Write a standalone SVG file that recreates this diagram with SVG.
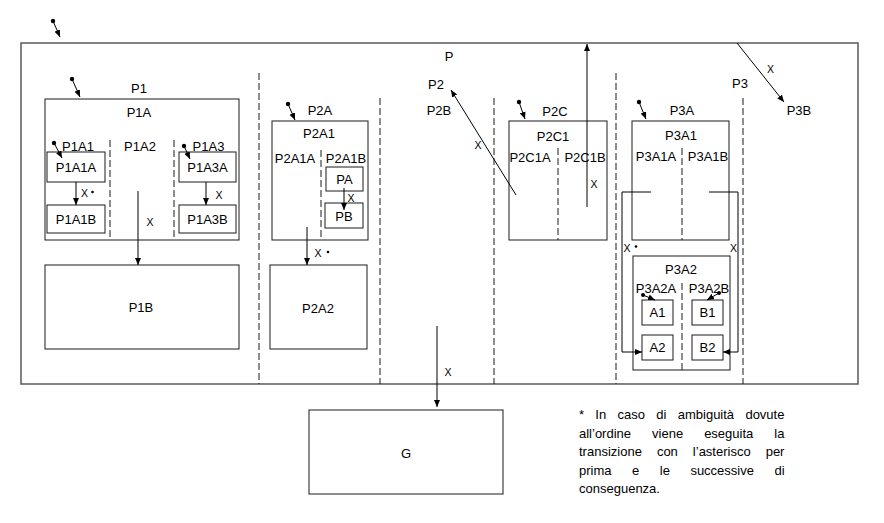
<svg xmlns="http://www.w3.org/2000/svg" width="884" height="523" viewBox="0 0 884 523">
<style>
text{font-family:"Liberation Sans",Arial,sans-serif;font-size:13px;fill:#000;text-anchor:middle}
text.x{font-size:10.5px}
text.note{text-anchor:start;font-size:13px}
.box{fill:#fff;stroke:#1a1a1a;stroke-width:1}
.outer{fill:#fff;stroke:#595959;stroke-width:1.5}
.dash{fill:none;stroke:#1a1a1a;stroke-width:1;stroke-dasharray:7 3}
.edge{fill:none;stroke:#000;stroke-width:1;marker-end:url(#ah)}
.init{fill:none;stroke:#000;stroke-width:1;marker-end:url(#ah)}
.dot{fill:#000}
</style>
<defs>
<marker id="ah" markerUnits="userSpaceOnUse" markerWidth="7" markerHeight="6" refX="7" refY="3" orient="auto">
<path d="M0,0 L7,3 L0,6 z" fill="#000"/>
</marker>
</defs>
<rect width="884" height="523" fill="#fff"/>

<g id="P">
<rect class="outer" x="21" y="43" width="837" height="341"/>
<text x="449" y="60.5">P</text>
<line class="dash" x1="259" y1="73" x2="259" y2="384"/>
<line class="dash" x1="616" y1="73" x2="616" y2="384"/>
</g>

<g id="P1">
<text x="139" y="93">P1</text>
</g>
<g id="P1A">
<rect class="box" x="45" y="99" width="194" height="141"/>
<text x="139" y="117">P1A</text>
<line class="dash" x1="110" y1="140" x2="110" y2="240"/>
<line class="dash" x1="174" y1="140" x2="174" y2="240"/>
<text x="78" y="150.5">P1A1</text>
<text x="140" y="150.5">P1A2</text>
<text x="208.5" y="150.5">P1A3</text>
</g>
<g id="P1A1A"><rect class="box" x="47" y="152" width="58" height="30"/><text x="76" y="171.5">P1A1A</text></g>
<g id="P1A1B"><rect class="box" x="47" y="205" width="58" height="28"/><text x="76" y="223.5">P1A1B</text></g>
<g id="P1A3A"><rect class="box" x="179" y="152" width="57" height="30"/><text x="207.5" y="171.5">P1A3A</text></g>
<g id="P1A3B"><rect class="box" x="179" y="205" width="57" height="28"/><text x="207.5" y="223.5">P1A3B</text></g>
<g id="P1B"><rect class="box" x="45" y="265" width="194" height="84"/><text x="141" y="311.5">P1B</text></g>

<g id="P2">
<text x="436" y="88.5">P2</text>
<line class="dash" x1="380" y1="98" x2="380" y2="384"/>
<line class="dash" x1="494" y1="98" x2="494" y2="384"/>
</g>
<g id="P2A"><text x="320" y="115">P2A</text></g>
<g id="P2A1">
<rect class="box" x="272" y="121" width="96" height="119"/>
<text x="319" y="137.5">P2A1</text>
<line class="dash" x1="321" y1="150" x2="321" y2="240"/>
<text x="295" y="162.5">P2A1A</text>
<text x="346" y="162.5">P2A1B</text>
</g>
<g id="PA"><rect class="box" x="326" y="167" width="37" height="24"/><text x="344.5" y="183.5">PA</text></g>
<g id="PB"><rect class="box" x="325" y="203" width="38" height="25"/><text x="344" y="220.5">PB</text></g>
<g id="P2A2"><rect class="box" x="270" y="265" width="97" height="84"/><text x="318" y="312.5">P2A2</text></g>
<g id="P2B"><text x="439" y="114.5">P2B</text></g>
<g id="P2C"><text x="555" y="115.5">P2C</text></g>
<g id="P2C1">
<rect class="box" x="509" y="121" width="98" height="119"/>
<text x="553" y="140.5">P2C1</text>
<line class="dash" x1="558" y1="148" x2="558" y2="240"/>
<text x="530" y="161.5">P2C1A</text>
<text x="585" y="161.5">P2C1B</text>
</g>

<g id="P3">
<text x="740" y="88">P3</text>
<line class="dash" x1="743" y1="98" x2="743" y2="384"/>
</g>
<g id="P3B"><text x="799" y="114.5">P3B</text></g>
<g id="P3A"><text x="682" y="115">P3A</text></g>
<g id="P3A1">
<rect class="box" x="632" y="121" width="97" height="119"/>
<text x="681" y="139.5">P3A1</text>
<line class="dash" x1="682" y1="148" x2="682" y2="240"/>
<text x="656" y="161">P3A1A</text>
<text x="708" y="161">P3A1B</text>
</g>
<g id="P3A2">
<rect class="box" x="633" y="256" width="97" height="114"/>
<text x="681" y="274">P3A2</text>
<line class="dash" x1="682" y1="283" x2="682" y2="370"/>
<text x="656" y="292.5">P3A2A</text>
<text x="709" y="292.5">P3A2B</text>
</g>
<g id="A1"><rect class="box" x="642" y="300" width="31" height="25"/><text x="657.5" y="317">A1</text></g>
<g id="B1"><rect class="box" x="692" y="300" width="31" height="25"/><text x="707.5" y="317">B1</text></g>
<g id="A2"><rect class="box" x="642" y="335" width="31" height="25"/><text x="657.5" y="352">A2</text></g>
<g id="B2"><rect class="box" x="692" y="335" width="31" height="25"/><text x="707.5" y="352">B2</text></g>

<g id="G"><rect class="box" x="309" y="410" width="194" height="84"/><text x="406" y="457.5">G</text></g>

<g id="connectors">
<circle class="dot" cx="53" cy="21" r="2.2"/><line class="init" x1="53" y1="21" x2="60" y2="37"/>
<circle class="dot" cx="72" cy="79" r="2.2"/><line class="init" x1="72" y1="79" x2="80" y2="97"/>
<circle class="dot" cx="54" cy="143" r="2.2"/><line class="init" x1="54" y1="143" x2="62" y2="158"/>
<circle class="dot" cx="184" cy="146" r="2.2"/><line class="init" x1="184" y1="146" x2="190" y2="159"/>
<circle class="dot" cx="288" cy="104" r="2.2"/><line class="init" x1="288" y1="104" x2="295" y2="120"/>
<circle class="dot" cx="519" cy="102" r="2.2"/><line class="init" x1="519" y1="102" x2="525" y2="119"/>
<circle class="dot" cx="639" cy="102" r="2.2"/><line class="init" x1="639" y1="102" x2="646" y2="119"/>
<circle class="dot" cx="643" cy="295" r="2"/><line class="init" x1="643" y1="295" x2="655" y2="300"/>
<circle class="dot" cx="719" cy="293" r="2"/><line class="init" x1="719" y1="293" x2="707" y2="300"/>

<line class="edge" x1="76" y1="182" x2="76" y2="205"/>
<text class="x" x="84.5" y="196.5">X</text><circle class="dot" cx="92.5" cy="192" r="1.3"/>
<line class="edge" x1="206" y1="182" x2="206" y2="205"/>
<text class="x" x="219" y="198.5">X</text>
<line class="edge" x1="138" y1="191" x2="138" y2="265"/>
<text class="x" x="150" y="225.5">X</text>

<line class="edge" x1="344" y1="188" x2="344" y2="210"/>
<text class="x" x="351" y="201.5">X</text>
<line class="edge" x1="307" y1="227" x2="307" y2="265"/>
<text class="x" x="318" y="256.5">X</text><circle class="dot" cx="328" cy="252" r="1.3"/>

<line class="edge" x1="437" y1="326" x2="437" y2="407"/>
<text class="x" x="448" y="375.5">X</text>

<line class="edge" x1="516" y1="195" x2="451" y2="90"/>
<text class="x" x="478" y="148.5">X</text>
<line class="edge" x1="587" y1="207" x2="587" y2="44"/>
<text class="x" x="594" y="187.5">X</text>

<line class="edge" x1="737" y1="43" x2="784" y2="102"/>
<text class="x" x="770.5" y="73">X</text>

<polyline class="edge" points="651,192 622,192 622,352 642,352"/>
<text class="x" x="627" y="252">X</text><circle class="dot" cx="636" cy="246.5" r="1.3"/>
<polyline class="edge" points="709,192 738,192 738,352 723,352"/>
<text class="x" x="733.5" y="252">X</text>
</g>

<g id="note">
<text class="note" x="579" y="419" style="word-spacing:7.7px">* In caso di ambiguità dovute</text>
<text class="note" x="579" y="437.5" style="word-spacing:17.4px">all’ordine viene eseguita la</text>
<text class="note" x="579" y="456" style="word-spacing:11.4px">transizione con l’asterisco per</text>
<text class="note" x="579" y="474.5" style="word-spacing:16.9px">prima e le successive di</text>
<text class="note" x="579" y="493">conseguenza.</text>
</g>
</svg>
